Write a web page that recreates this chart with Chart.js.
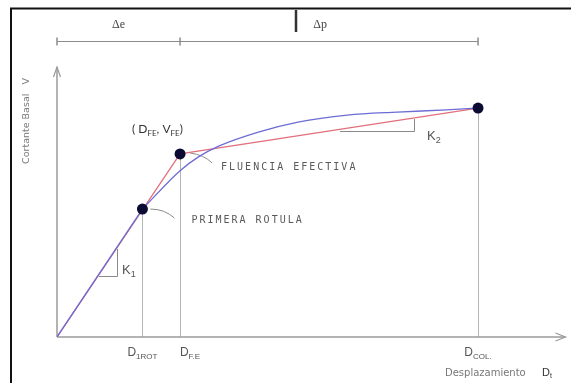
<!DOCTYPE html>
<html>
<head>
<meta charset="utf-8">
<script src="https://cdn.jsdelivr.net/npm/chart.js@4/dist/chart.umd.min.js"></script>
<style>
  html, body { margin: 0; padding: 0; background: #fff; }
</style>
</head>
<body>
<canvas id="chart" width="571" height="383"></canvas>
<script>
// Curva de capacidad (desplazamiento vs cortante basal), unidades relativas 0-100
// tramo elastico (recto) hasta la primera rotula
const elasticoX = [0, 16.8];
const elasticoY = [0, 47.4];
// tramo inelastico desde la primera rotula hasta el colapso
const desplazamiento = [16.8, 24.2, 27.9, 31.8, 39.6, 47.4, 57.1, 66.9, 76.6, 82.8];
const cortante       = [47.4, 61.6, 66.8, 70.7, 75.9, 79.6, 82.2, 83.3, 84.1, 84.8];

// Idealizacion bilineal: origen, fluencia efectiva, colapso
const bilinealX = [0, 24.2, 82.8];
const bilinealY = [0, 67.8, 84.8];

// Puntos notables: primera rotula, fluencia efectiva, colapso
const puntosX = [16.8, 24.2, 82.8];
const puntosY = [47.4, 67.8, 84.8];
const subEtiquetas = ['1ROT', 'F.E', 'COL.'];

const toXY = (xs, ys) => xs.map((v, i) => ({ x: v, y: ys[i] }));

// dibuja texto con subindices: partes = [[texto, esSub], ...]
function textoSub(ctx, partes, x, y, tam, color, fuente, centrado) {
  ctx.save();
  ctx.fillStyle = color;
  ctx.textBaseline = 'alphabetic';
  ctx.textAlign = 'left';
  const f = s => (s ? Math.round(tam * 0.68) : tam) + 'px ' + fuente;
  let w = 0;
  partes.forEach(([t, s]) => { ctx.font = f(s); w += ctx.measureText(t).width; });
  let cx = centrado ? x - w / 2 : x;
  partes.forEach(([t, s]) => {
    ctx.font = f(s);
    ctx.fillText(t, cx, s ? y + tam * 0.22 : y);
    cx += ctx.measureText(t).width;
  });
  ctx.restore();
}

function textoCad(ctx, txt, x, y) {
  ctx.save();
  ctx.font = '10px "DejaVu Sans Mono"';
  ctx.letterSpacing = '2px';
  ctx.fillStyle = '#5a5a5a';
  ctx.textBaseline = 'alphabetic';
  ctx.fillText(txt, x, y);
  ctx.restore();
}

const dibujos = {
  id: 'dibujos',
  beforeDatasetsDraw(chart) {
    const ctx = chart.ctx;
    const xs = chart.scales.x, ys = chart.scales.y;
    const x0 = xs.getPixelForValue(0), y0 = ys.getPixelForValue(0);
    ctx.save();
    // marco
    ctx.strokeStyle = '#111';
    ctx.lineWidth = 2;
    ctx.beginPath();
    ctx.moveTo(11, 383); ctx.lineTo(11, 8.5); ctx.lineTo(571, 8.5);
    ctx.stroke();

    // lineas verticales desde los puntos
    ctx.strokeStyle = '#b4b4b4';
    ctx.lineWidth = 1;
    puntosX.forEach((v, i) => {
      const p = Math.round(xs.getPixelForValue(v)) + 0.5;
      ctx.beginPath();
      ctx.moveTo(p, ys.getPixelForValue(puntosY[i]));
      ctx.lineTo(p, y0);
      ctx.stroke();
    });

    // ejes
    ctx.strokeStyle = '#9a9a9a';
    ctx.lineWidth = 1.5;
    ctx.beginPath();
    ctx.moveTo(x0, y0); ctx.lineTo(x0, chart.chartArea.top);
    ctx.moveTo(x0, y0); ctx.lineTo(chart.chartArea.right, y0);
    ctx.stroke();
    ctx.lineWidth = 1.2;
    ctx.beginPath();
    ctx.moveTo(x0 - 3.5, chart.chartArea.top + 10); ctx.lineTo(x0, chart.chartArea.top); ctx.lineTo(x0 + 3.5, chart.chartArea.top + 10);
    ctx.moveTo(chart.chartArea.right - 10, y0 - 4); ctx.lineTo(chart.chartArea.right, y0); ctx.lineTo(chart.chartArea.right - 10, y0 + 4);
    ctx.stroke();

    // triangulos de rigidez K1, K2
    ctx.strokeStyle = '#8a8a8a';
    ctx.lineWidth = 1;
    ctx.beginPath();
    ctx.moveTo(99, 276.5); ctx.lineTo(117.5, 276.5); ctx.lineTo(117.5, 249);
    ctx.moveTo(340, 131.5); ctx.lineTo(414.5, 131.5); ctx.lineTo(414.5, 119);
    ctx.stroke();

    // cota superior
    const yc = 41.5;
    const xf = xs.getPixelForValue(bilinealX[1]), xc = xs.getPixelForValue(bilinealX[2]);
    ctx.strokeStyle = '#8c8c8c';
    ctx.lineWidth = 1;
    ctx.beginPath();
    ctx.moveTo(x0, yc); ctx.lineTo(xc, yc);
    ctx.stroke();
    ctx.lineWidth = 1.5;
    ctx.beginPath();
    [x0, xf, xc].forEach(p => { ctx.moveTo(p, yc - 4); ctx.lineTo(p, yc + 4); });
    ctx.stroke();
    ctx.strokeStyle = '#333';
    ctx.lineWidth = 2.5;
    ctx.beginPath();
    ctx.moveTo(296, 10); ctx.lineTo(296, 32);
    ctx.stroke();

    // lineas guia a etiquetas
    const p1x = xs.getPixelForValue(puntosX[0]), p1y = ys.getPixelForValue(puntosY[0]);
    const pfx = xs.getPixelForValue(puntosX[1]), pfy = ys.getPixelForValue(puntosY[1]);
    ctx.strokeStyle = '#8a8a8a';
    ctx.lineWidth = 1;
    ctx.beginPath();
    ctx.moveTo(p1x + 8, p1y); ctx.quadraticCurveTo(p1x + 22, p1y, p1x + 32, p1y + 9);
    ctx.moveTo(pfx + 10, pfy - 1); ctx.quadraticCurveTo(pfx + 24, pfy + 1, pfx + 32, pfy + 9);
    ctx.stroke();
    ctx.restore();
  },
  afterDraw(chart) {
    const ctx = chart.ctx;
    const xs = chart.scales.x, ys = chart.scales.y;
    const x0 = xs.getPixelForValue(0);
    const xf = xs.getPixelForValue(bilinealX[1]), xc = xs.getPixelForValue(bilinealX[2]);

    // cotas delta
    ctx.save();
    ctx.fillStyle = '#444';
    ctx.font = '12px "Liberation Serif"';
    ctx.textAlign = 'center';
    ctx.fillText('\u0394e', (x0 + xf) / 2, 28);
    ctx.fillText('\u0394p', (xf + xc) / 2 - 9, 28);
    ctx.restore();

    // etiquetas eje x
    const desp = [0, 10, 0];
    puntosX.forEach((v, i) => {
      textoSub(ctx, [['D', false], [subEtiquetas[i], true]], xs.getPixelForValue(v) + desp[i], 356, 12, '#555', '"Liberation Sans"', true);
    });

    // titulo eje x
    ctx.save();
    ctx.font = '10px "DejaVu Sans"';
    ctx.fillStyle = '#777';
    ctx.fillText('Desplazamiento', 445, 376);
    ctx.restore();
    textoSub(ctx, [['D', false], ['t', true]], 542, 376, 11, '#333', '"Liberation Sans"', false);

    // titulo eje y
    ctx.save();
    ctx.translate(29, 121);
    ctx.rotate(-Math.PI / 2);
    ctx.font = '9.5px "DejaVu Sans"';
    ctx.fillStyle = '#7a7a7a';
    ctx.textAlign = 'center';
    ctx.fillText('Cortante Basal   V', 0, 0);
    ctx.restore();

    // etiquetas de puntos
    const p1x = xs.getPixelForValue(puntosX[0]), p1y = ys.getPixelForValue(puntosY[0]);
    const pfx = xs.getPixelForValue(puntosX[1]), pfy = ys.getPixelForValue(puntosY[1]);
    textoSub(ctx, [['( D', false], ['FE', true], [', V', false], ['FE', true], [')', false]], pfx - 48, pfy - 21, 12, '#333', 'Lato', false);
    textoCad(ctx, 'FLUENCIA EFECTIVA', pfx + 41, pfy + 16);
    textoCad(ctx, 'PRIMERA ROTULA', p1x + 49, p1y + 14);

    // K1, K2
    textoSub(ctx, [['K', false], ['1', true]], 122, 274, 13, '#555', '"Liberation Sans"', false);
    textoSub(ctx, [['K', false], ['2', true]], 427, 140, 13, '#555', '"Liberation Sans"', false);
  }
};

new Chart(document.getElementById('chart'), {
  type: 'scatter',
  data: {
    datasets: [{
      label: 'Puntos',
      data: toXY(puntosX, puntosY),
      showLine: false,
      pointRadius: 5.5,
      pointBackgroundColor: '#0b0b33',
      pointBorderColor: '#0b0b33',
      pointBorderWidth: 0
    }, {
      label: 'Tramo elastico',
      data: toXY(elasticoX, elasticoY),
      showLine: true,
      borderColor: '#6c6cd4',
      borderWidth: 1.3,
      pointRadius: 0,
      tension: 0
    }, {
      label: 'Curva de capacidad',
      data: toXY(desplazamiento, cortante),
      showLine: true,
      borderColor: '#6c6cd4',
      borderWidth: 1.3,
      pointRadius: 0,
      cubicInterpolationMode: 'monotone'
    }, {
      label: 'Bilineal',
      data: toXY(bilinealX, bilinealY),
      showLine: true,
      borderColor: '#e2707e',
      borderWidth: 1.3,
      pointRadius: 0,
      tension: 0
    }]
  },
  options: {
    responsive: false,
    animation: false,
    devicePixelRatio: 1,
    layout: { padding: { left: 57, right: 1, top: 67, bottom: 46 } },
    plugins: { legend: { display: false }, tooltip: { enabled: false } },
    scales: {
      x: { type: 'linear', min: 0, max: 100, display: false },
      y: { type: 'linear', min: 0, max: 100, display: false }
    }
  },
  plugins: [dibujos]
});
</script>
</body>
</html>
